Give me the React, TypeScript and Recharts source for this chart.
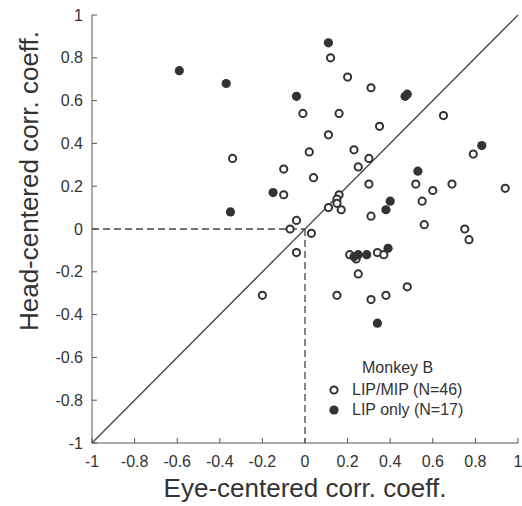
import { ScatterChart, Scatter, XAxis, YAxis, ReferenceLine, Legend } from 'recharts';

// LIP/MIP cells (open circles)
const lipMipEye = [
  -0.01, -0.34, -0.1, -0.1, -0.04, -0.07, -0.04, -0.2, 0.12, 0.2, 0.31, 0.16, 0.65, 0.35, 0.11, 0.02,
  0.23, 0.3, 0.79, 0.25, 0.04, 0.3, 0.52, 0.69, 0.6, 0.94, 0.16, 0.15, 0.15, 0.11, 0.17, 0.31, 0.55,
  0.56, 0.75, 0.03, 0.77, 0.21, 0.34, 0.37, 0.24, 0.25, 0.15, 0.31, 0.38, 0.48,
];
const lipMipHead = [
  0.54, 0.33, 0.28, 0.16, 0.04, 0.0, -0.11, -0.31, 0.8, 0.71, 0.66, 0.54, 0.53, 0.48, 0.44, 0.36,
  0.37, 0.33, 0.35, 0.29, 0.24, 0.21, 0.21, 0.21, 0.18, 0.19, 0.16, 0.14, 0.12, 0.1, 0.09, 0.06, 0.13,
  0.02, 0.0, -0.02, -0.05, -0.12, -0.11, -0.12, -0.14, -0.21, -0.31, -0.33, -0.31, -0.27,
];

// LIP only cells (filled circles)
const lipOnlyEye = [-0.59, -0.37, -0.04, -0.15, -0.35, 0.11, 0.47, 0.48, 0.83, 0.53, 0.4, 0.38, 0.23, 0.25, 0.29, 0.39, 0.34];
const lipOnlyHead = [0.74, 0.68, 0.62, 0.17, 0.08, 0.87, 0.62, 0.63, 0.39, 0.27, 0.13, 0.09, -0.13, -0.12, -0.12, -0.09, -0.44];

const axisTicks = [-1, -0.8, -0.6, -0.4, -0.2, 0, 0.2, 0.4, 0.6, 0.8, 1];
const unityLine = [{ x: -1, y: -1 }, { x: 1, y: 1 }];
const zeroHead = [{ x: -1, y: 0 }, { x: 0, y: 0 }];
const zeroEye = [{ x: 0, y: 0 }, { x: 0, y: -1 }];

const lipMipData = lipMipEye.map((x, i) => ({ x, y: lipMipHead[i] }));
const lipOnlyData = lipOnlyEye.map((x, i) => ({ x, y: lipOnlyHead[i] }));

const FONT = '"Liberation Sans", Arial, Helvetica, sans-serif';
const INK = '#333';
const AXIS = '#555';
const TICK = 5;

const nameMip = `LIP/MIP (N=${lipMipData.length})`;
const nameOnly = `LIP only (N=${lipOnlyData.length})`;
const legendOrder = [nameMip, nameOnly];

const openDot = (p: any) => <circle cx={p.cx} cy={p.cy} r={3.6} fill="#fff" stroke={INK} strokeWidth={2} />;
const filledDot = (p: any) => <circle cx={p.cx} cy={p.cy} r={4.6} fill={INK} />;

function BottomTick({ x, y, payload }: any) {
  return (
    <g>
      <line x1={x} y1={y} x2={x} y2={y - TICK} stroke={AXIS} />
      <text x={x} y={y + 24} textAnchor="middle" fill={INK} fontSize={16} fontFamily={FONT}>
        {String(payload.value)}
      </text>
    </g>
  );
}

function LeftTick({ x, y, payload }: any) {
  return (
    <g>
      <line x1={x} y1={y} x2={x + TICK} y2={y} stroke={AXIS} />
      <text x={x - 9} y={y + 5.5} textAnchor="end" fill={INK} fontSize={16} fontFamily={FONT}>
        {String(payload.value)}
      </text>
    </g>
  );
}

const TopTick = ({ x, y }: any) => <line x1={x} y1={y} x2={x} y2={y + TICK} stroke={AXIS} />;
const RightTick = ({ x, y }: any) => <line x1={x} y1={y} x2={x - TICK} y2={y} stroke={AXIS} />;

function renderLegend(props: any) {
  const items = [...(props.payload || [])].sort(
    (a: any, b: any) => legendOrder.indexOf(a.value) - legendOrder.indexOf(b.value),
  );
  return (
    <div style={{ fontFamily: FONT, fontSize: 16, color: INK }}>
      <div style={{ height: 25, lineHeight: '25px', paddingLeft: 37 }}>Monkey B</div>
      {items.map((entry: any) => (
        <div key={entry.value} style={{ height: 20, display: 'flex', alignItems: 'center' }}>
          <svg width={18} height={20}>
            {entry.value === nameMip ? (
              <circle cx={9} cy={10} r={3.6} fill="#fff" stroke={INK} strokeWidth={2} />
            ) : (
              <circle cx={9} cy={10} r={4.6} fill={INK} />
            )}
          </svg>
          <span style={{ marginLeft: 9, whiteSpace: 'nowrap' }}>{entry.value}</span>
        </div>
      ))}
    </div>
  );
}

export default function App() {
  return (
    <div style={{ position: 'absolute', left: 0, top: 0, background: '#fff' }}>
      <ScatterChart width={522} height={506} margin={{ top: 15, right: 4, bottom: 0, left: 0 }}>
        <XAxis
          xAxisId="bottom"
          type="number"
          dataKey="x"
          domain={[-1, 1]}
          ticks={axisTicks}
          height={63}
          tickSize={0}
          tickMargin={0}
          tick={<BottomTick />}
          axisLine={{ stroke: AXIS }}
          label={{
            content: (p: any) => (
              <text
                x={p.viewBox.x + p.viewBox.width / 2}
                y={p.viewBox.y + 54}
                textAnchor="middle"
                fill={INK}
                fontSize={26}
                fontFamily={FONT}
              >
                Eye-centered corr. coeff.
              </text>
            ),
          }}
        />
        <XAxis xAxisId="top" orientation="top" type="number" domain={[-1, 1]} ticks={axisTicks} height={0} tickSize={0} tickMargin={0} tick={<TopTick />} axisLine={{ stroke: AXIS }} />
        <YAxis
          yAxisId="left"
          type="number"
          dataKey="y"
          domain={[-1, 1]}
          ticks={axisTicks}
          width={92}
          tickSize={0}
          tickMargin={0}
          tick={<LeftTick />}
          axisLine={{ stroke: AXIS }}
          label={{
            content: (p: any) => {
              const cx = p.viewBox.x + 38;
              const cy = p.viewBox.y + p.viewBox.height / 2 - 48;
              return (
                <text x={cx} y={cy} transform={`rotate(-90, ${cx}, ${cy})`} textAnchor="middle" fill={INK} fontSize={26} fontFamily={FONT}>
                  Head-centered corr. coeff.
                </text>
              );
            },
          }}
        />
        <YAxis yAxisId="right" orientation="right" type="number" domain={[-1, 1]} ticks={axisTicks} width={0} tickSize={0} tickMargin={0} tick={<RightTick />} axisLine={{ stroke: AXIS }} />
        <ReferenceLine xAxisId="bottom" yAxisId="left" segment={unityLine} stroke="#444" strokeWidth={1.3} />
        <ReferenceLine xAxisId="bottom" yAxisId="left" segment={zeroHead} stroke="#444" strokeWidth={1.3} strokeDasharray="7 4" />
        <ReferenceLine xAxisId="bottom" yAxisId="left" segment={zeroEye} stroke="#444" strokeWidth={1.3} strokeDasharray="7 4" />
        <Scatter xAxisId="bottom" yAxisId="left" name={nameMip} data={lipMipData} fill="#fff" shape={openDot} isAnimationActive={false} />
        <Scatter xAxisId="bottom" yAxisId="left" name={nameOnly} data={lipOnlyData} fill={INK} shape={filledDot} isAnimationActive={false} />
        <Legend
          layout="vertical"
          align="center"
          verticalAlign="middle"
          content={renderLegend}
          wrapperStyle={{ left: 325, top: 355, width: 'auto' }}
        />
      </ScatterChart>
    </div>
  );
}
